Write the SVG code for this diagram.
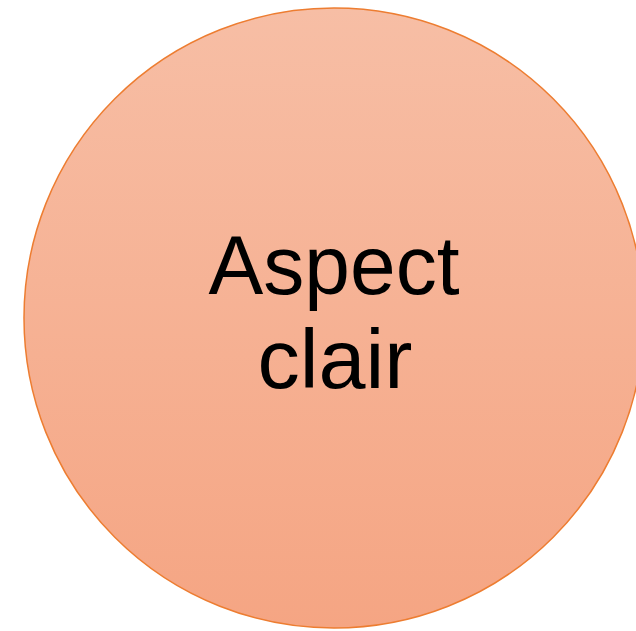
<svg xmlns="http://www.w3.org/2000/svg" width="636" height="631" viewBox="0 0 636 631">
<defs>
<linearGradient id="g" x1="0" y1="0" x2="0" y2="1">
<stop offset="0" stop-color="#F7BEA5"/>
<stop offset="1" stop-color="#F5A583"/>
</linearGradient>
</defs>
<style>
.lbl{font-family:"Liberation Sans","Open Sans",sans-serif;font-size:83px;fill:#000;text-anchor:middle}
</style>
<rect width="636" height="631" fill="#fff"/>
<g id="node-aspect-clair">
<circle cx="334" cy="318" r="310" fill="url(#g)" stroke="#ED7D31" stroke-width="1.5"/>
<text class="lbl" x="334" y="294" textLength="251" lengthAdjust="spacingAndGlyphs">Aspect</text>
<text class="lbl" x="335" y="388" textLength="155" lengthAdjust="spacingAndGlyphs">clair</text>
</g>
<g id="connectors"/>
</svg>
